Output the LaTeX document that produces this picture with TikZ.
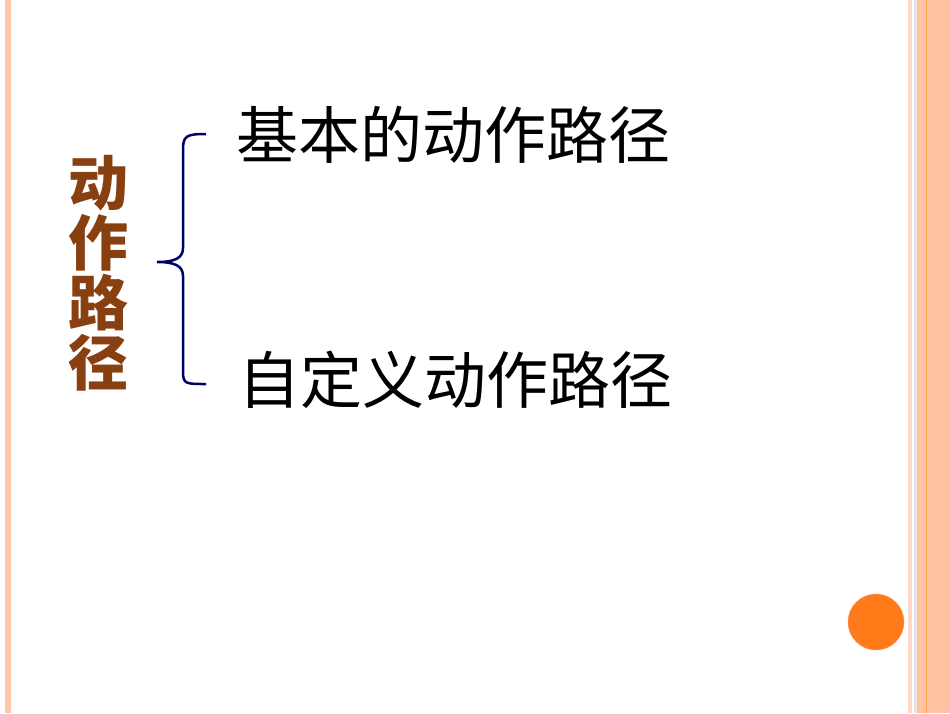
\documentclass[tikz,border=0pt]{standalone}
\usepackage{fontspec}
\newfontfamily\cjk{Noto Sans CJK SC}
\begin{document}
\begin{tikzpicture}[x=1pt,y=-1pt,
 title/.style={text=brown!80!black,font=\cjk\bfseries\fontsize{60}{62}\selectfont,inner sep=0},
 item/.style={anchor=west,font=\cjk\fontsize{62}{64}\selectfont,inner sep=0}]
\definecolor{brown}{RGB}{170,80,20}
\useasboundingbox (0,0) rectangle (950,713);
\fill[white] (0,0) rectangle (950,713);
\fill[orange!30!pink!70] (5,0) rectangle (11,713);
\fill[orange!25!pink!50] (908,0) rectangle (912,713);
\fill[gray!20] (914,0) rectangle (917,713);
\fill[orange!35!pink!70] (917,0) rectangle (950,713);
\draw[orange!70,line width=1pt] (926,0) -- (926,713);
\node[title] (t1) at (98,183) {动};
\node[title] (t2) at (98,243) {作};
\node[title] (t3) at (98,303) {路};
\node[title] (t4) at (98,363) {径};
\node[item] (a) at (236,135) {基本的动作路径};
\node[item] (b) at (238,380) {自定义动作路径};
\draw[blue!40!black,line width=2.5pt] (206,134) .. controls (186,134) and (183,136) .. (183,150) -- (183,248) .. controls (183,258) and (175,262) .. (157,262) .. controls (175,262) and (183,266) .. (183,276) -- (183,372) .. controls (183,384) and (186,384) .. (206,384);
\fill[orange!85!red!90,draw=orange!60!red!60] (876,622) circle (28);
\end{tikzpicture}
\end{document}
